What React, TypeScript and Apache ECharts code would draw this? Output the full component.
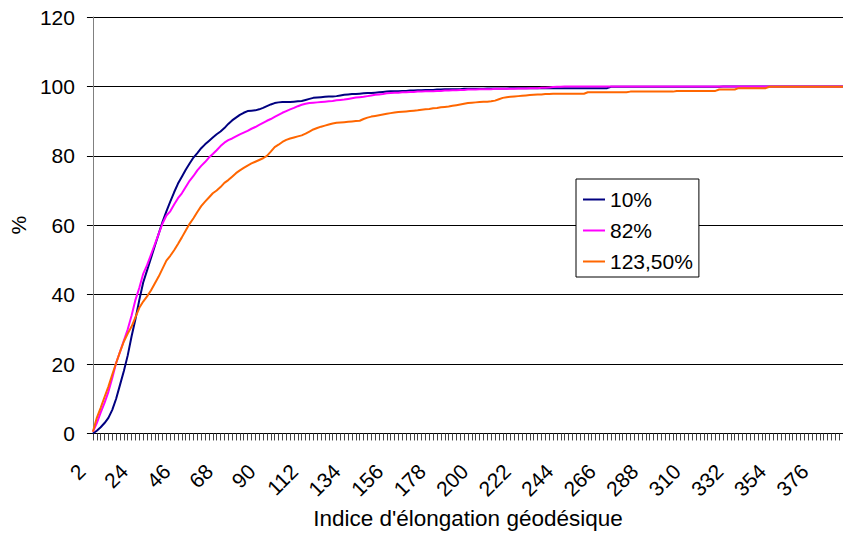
import React, { useEffect, useRef } from "react";
import * as echarts from "echarts";

// Indice d'élongation géodésique: 2, 4, ..., 390
const categories: string[] = [];
for (let v = 2; v <= 390; v += 2) categories.push(String(v));

const seriesNames = ["10%", "82%", "123,50%"];

const s10 = [
  0, 0.8, 1.8, 3.0, 4.5, 6.8, 10.0, 14.0, 18.0, 22.5,
  28.0, 33.0, 38.5, 43.5, 47.0, 50.5, 54.0, 57.5, 61.0, 64.0,
  66.8, 69.5, 72.0, 74.0, 76.0, 77.8, 79.5, 80.8, 82.2, 83.3,
  84.3, 85.3, 86.2, 87.0, 88.0, 89.2, 90.2, 91.0, 91.8, 92.4,
  92.9, 93.0, 93.1, 93.4, 93.8, 94.3, 94.8, 95.2, 95.4, 95.5,
  95.5, 95.5, 95.6, 95.7, 95.8, 96.1, 96.4, 96.7, 96.8, 96.9,
  97.0, 97.1, 97.1, 97.2, 97.4, 97.6, 97.7, 97.8, 97.8, 97.9,
  98.0, 98.1, 98.1, 98.2, 98.3, 98.4, 98.5, 98.6, 98.6, 98.6,
  98.7, 98.7, 98.8, 98.8, 98.9, 98.9, 99.0, 99.0, 99.0, 99.1,
  99.1, 99.2, 99.2, 99.2, 99.2, 99.2, 99.3, 99.3, 99.3, 99.3,
  99.3, 99.3, 99.4, 99.4, 99.4, 99.4, 99.4, 99.4,
  99.5, 99.5, 99.5, 99.5, 99.5, 99.5, 99.5, 99.5, 99.5, 99.5,
  99.5, 99.5, 99.5, 99.5, 99.5, 99.5, 99.5, 99.5, 99.5, 99.5,
  99.5, 99.5, 99.5, 99.5, 99.5, 99.5,
  99.9, 99.9, 99.9, 99.9, 99.9, 99.9, 99.9, 99.9, 99.9, 99.9,
  99.9, 99.9, 99.9, 99.9, 99.9, 99.9, 99.9, 99.9, 99.9, 99.9,
  99.9, 99.9, 99.9, 99.9, 99.9, 99.9, 99.9, 99.9, 99.9,
  100, 100, 100, 100, 100, 100, 100, 100, 100, 100,
  100, 100, 100, 100, 100, 100, 100, 100, 100, 100,
  100, 100, 100, 100, 100, 100, 100, 100, 100, 100,
  100, 100,
];

const s82 = [
  0.5, 3.0, 6.0, 8.8, 12.0, 16.0, 20.3, 23.5, 26.8, 30.0,
  34.0, 38.5, 42.0, 46.0, 48.5, 51.5, 54.5, 57.5, 60.5, 62.8,
  64.0, 66.0, 67.8, 69.2, 71.0, 72.8, 74.2, 75.8, 77.1, 78.2,
  79.5, 80.5, 81.6, 82.8, 83.8, 84.5, 85.0, 85.6, 86.2, 86.7,
  87.2, 87.8, 88.3, 88.9, 89.5, 90.1, 90.6, 91.2, 91.8, 92.4,
  92.9, 93.4, 93.8, 94.3, 94.7, 95.0, 95.2, 95.3, 95.4, 95.5,
  95.6, 95.7, 95.8, 96.0, 96.1, 96.2, 96.4, 96.6, 96.8, 96.9,
  97.0, 97.2, 97.4, 97.6, 97.7, 97.8, 98.0, 98.1, 98.2, 98.2,
  98.3, 98.3, 98.4, 98.4, 98.5, 98.5, 98.6, 98.6, 98.6, 98.7,
  98.7, 98.8, 98.8, 98.9, 98.9, 99.0, 99.0, 99.1, 99.1, 99.1,
  99.2, 99.2, 99.2, 99.2, 99.3, 99.3, 99.3, 99.3, 99.3, 99.3,
  99.4, 99.4, 99.4, 99.5, 99.5, 99.5, 99.6, 99.6, 99.7, 99.8,
  99.9, 99.9,
  100, 100, 100, 100, 100, 100, 100, 100, 100, 100,
  100, 100, 100, 100, 100, 100, 100, 100, 100, 100,
  100, 100, 100, 100, 100, 100, 100, 100, 100, 100,
  100, 100, 100, 100, 100, 100, 100, 100, 100, 100,
  100, 100, 100, 100, 100, 100, 100, 100, 100, 100,
  100, 100, 100, 100, 100, 100, 100, 100, 100, 100,
  100, 100, 100, 100, 100, 100, 100, 100, 100, 100,
  100, 100, 100,
];

const s123 = [
  0.5, 4.5, 7.4, 10.5, 13.5, 17.0, 20.3, 23.5, 26.5, 28.8,
  30.8, 33.5, 36.2, 38.0, 39.5, 41.2, 43.2, 45.2, 47.5, 49.8,
  51.2, 52.8, 54.6, 56.5, 58.5, 60.4, 62.0, 63.8, 65.5, 66.8,
  68.0, 69.2, 70.0, 71.0, 72.2, 73.0, 74.0, 75.0, 75.8, 76.5,
  77.2, 77.8, 78.3, 78.8, 79.3, 80.0, 81.2, 82.5, 83.2, 84.0,
  84.6, 85.0, 85.3, 85.6, 85.9, 86.4, 87.0, 87.6, 88.0, 88.4,
  88.7, 89.0, 89.3, 89.5, 89.6, 89.7, 89.8, 89.9, 90.0, 90.1,
  90.6, 91.0, 91.3, 91.5, 91.7, 91.9, 92.1, 92.3, 92.5, 92.6,
  92.7, 92.8, 92.9, 93.0, 93.1, 93.3, 93.4, 93.5, 93.7, 93.8,
  94.0, 94.1, 94.2, 94.4, 94.6, 94.8, 95.0, 95.2, 95.3, 95.4,
  95.5, 95.6, 95.6, 95.7, 95.9, 96.3, 96.7, 96.9, 97.0, 97.1,
  97.2, 97.3, 97.4, 97.5, 97.6, 97.7, 97.7, 97.8, 97.8, 97.9,
  97.9, 97.9, 97.9, 97.9, 97.9, 97.9, 97.9, 97.9,
  98.3, 98.3, 98.3, 98.3, 98.3, 98.3, 98.3, 98.3, 98.3, 98.3, 98.3,
  98.5, 98.5, 98.5, 98.5, 98.5, 98.5, 98.5, 98.5, 98.5, 98.5, 98.5, 98.5,
  98.7, 98.7, 98.7, 98.7, 98.7, 98.7, 98.7, 98.7, 98.7, 98.7, 98.7,
  99.1, 99.1, 99.1, 99.1, 99.1,
  99.5, 99.5, 99.5, 99.5, 99.5, 99.5, 99.5, 99.5,
  99.9, 99.9, 99.9, 99.9, 99.9, 99.9, 99.9, 99.9, 99.9, 99.9,
  99.9, 99.9, 99.9, 99.9, 99.9, 99.9, 99.9, 99.9, 99.9, 99.9,
];

const colors = ["#000080", "#FF00FF", "#FF6600"];
const FONT = "'Liberation Sans', Arial, sans-serif";

export default function App() {
  const ref = useRef<HTMLDivElement>(null);
  useEffect(() => {
    document.body.style.margin = "0";
    if (!ref.current) return;
    const chart = echarts.init(ref.current, null, { renderer: "svg" });
    const data = [s10, s82, s123];
    chart.setOption({
      animation: false,
      backgroundColor: "#ffffff",
      textStyle: { fontFamily: FONT },
      grid: { left: 88, top: 17, right: 0, bottom: 99, containLabel: false },
      legend: {
        orient: "vertical",
        left: 576,
        top: 179,
        width: 121,
        padding: [10, 6, 5, 7],
        itemGap: 10,
        itemWidth: 22,
        itemHeight: 2,
        icon: "rect",
        borderColor: "#000",
        borderWidth: 1,
        backgroundColor: "#fff",
        textStyle: { fontSize: 21, color: "#000", fontFamily: FONT },
        data: seriesNames,
      },
      xAxis: {
        type: "category",
        data: categories,
        boundaryGap: false,
        name: "Indice d'élongation géodésique",
        nameLocation: "middle",
        nameGap: 71,
        nameTextStyle: { fontSize: 22.5, color: "#000", fontFamily: FONT },
        axisLine: { lineStyle: { color: "#000", width: 1 } },
        axisTick: { show: true, interval: 0, length: 7, lineStyle: { color: "#444" } },
        axisLabel: {
          interval: 10,
          rotate: 45,
          fontSize: 21,
          color: "#000",
          margin: 23,
          padding: [0, 16, 0, 0],
          fontFamily: FONT,
        },
        splitLine: { show: false },
      },
      yAxis: {
        type: "value",
        min: 0,
        max: 120,
        interval: 20,
        name: "%",
        nameLocation: "middle",
        nameGap: 62,
        nameRotate: 90,
        nameTextStyle: { fontSize: 21, color: "#000", fontFamily: FONT },
        axisLine: { show: true, lineStyle: { color: "#808080", width: 1 } },
        axisTick: { show: true, length: 6, lineStyle: { color: "#000" } },
        axisLabel: { fontSize: 21, color: "#000", margin: 18, fontFamily: FONT },
        splitLine: { show: true, lineStyle: { color: "#000", width: 1 } },
      },
      series: seriesNames.map((name, i) => ({
        name,
        type: "line",
        data: data[i],
        showSymbol: false,
        symbol: "none",
        lineStyle: { color: colors[i], width: 2 },
        itemStyle: { color: colors[i] },
        z: 2 + i,
      })),
    });
    return () => chart.dispose();
  }, []);
  return (
    <div
      ref={ref}
      style={{ position: "absolute", left: 0, top: 0, width: 843, height: 535 }}
    />
  );
}
